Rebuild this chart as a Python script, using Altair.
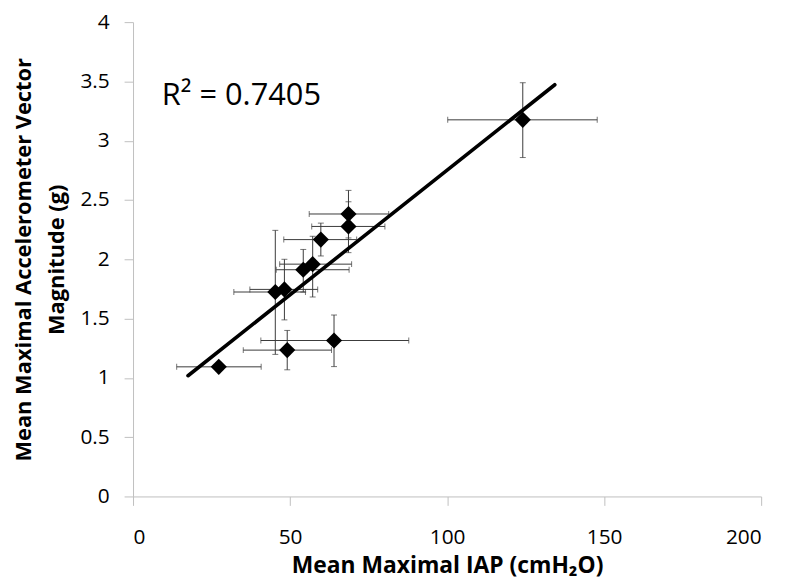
import altair as alt
import pandas as pd

# Mean maximal IAP (cmH2O) and accelerometer magnitude (g)
iap = [27.3, 49.1, 64.0, 45.3, 48.2, 54.2, 57.2, 59.8, 68.6, 68.6, 124.1]
acc = [1.093, 1.234, 1.315, 1.724, 1.746, 1.912, 1.959, 2.166, 2.277, 2.382, 3.176]
iap_lo = [13.9, 35.1, 40.7, 32.1, 37.2, 45.6, 46.7, 48.0, 56.9, 56.1, 100.2]
iap_hi = [40.8, 63.2, 87.8, 54.9, 58.8, 68.8, 69.6, 71.2, 80.2, 81.4, 147.8]
acc_lo = [1.07, 1.068, 1.095, 1.198, 1.489, 1.724, 1.682, 2.028, 2.056, 2.18, 2.858]
acc_hi = [1.12, 1.40, 1.53, 2.244, 2.0, 2.083, 2.194, 2.305, 2.485, 2.581, 3.489]

# linear trendline end points
trend_x = [17.5, 134.3]
trend_y = [1.018, 3.472]
r2_text = ["R² = 0.7405"]

x_ticks = [0, 50, 100, 150, 200]
y_ticks = [0, 0.5, 1, 1.5, 2, 2.5, 3, 3.5, 4]

df = pd.DataFrame(dict(iap=iap, acc=acc, iap_lo=iap_lo, iap_hi=iap_hi,
                       acc_lo=acc_lo, acc_hi=acc_hi))
tdf = pd.DataFrame(dict(x=trend_x, y=trend_y))
rdf = pd.DataFrame(dict(t=r2_text))

xs = alt.Scale(domain=[0, 200], nice=False, zero=False)
ys = alt.Scale(domain=[0, 4], nice=False, zero=False)

bar_color = "#3a3a3a"

xaxis = alt.Axis(values=x_ticks, title="Mean Maximal IAP (cmH₂O)",
                 labelPadding=21, titlePadding=8)
yaxis = alt.Axis(values=y_ticks, labelExpr="datum.value + ''",
                 title=["Mean Maximal Accelerometer Vector", "Magnitude  (g)"],
                 labelPadding=15, titlePadding=12, titleLineHeight=33,
                 titleFontSize=22)

base = alt.Chart(df)

hbar = base.mark_rule(color=bar_color, strokeWidth=1).encode(
    x=alt.X("iap_lo:Q", scale=xs, axis=xaxis),
    x2="iap_hi:Q",
    y=alt.Y("acc:Q", scale=ys, axis=yaxis),
)
vbar = base.mark_rule(color=bar_color, strokeWidth=1).encode(
    x=alt.X("iap:Q", scale=xs), y=alt.Y("acc_lo:Q", scale=ys), y2="acc_hi:Q"
)
cap_xl = base.mark_tick(color=bar_color, orient="vertical", size=6, thickness=1).encode(
    x=alt.X("iap_lo:Q", scale=xs), y=alt.Y("acc:Q", scale=ys))
cap_xh = base.mark_tick(color=bar_color, orient="vertical", size=6, thickness=1).encode(
    x=alt.X("iap_hi:Q", scale=xs), y=alt.Y("acc:Q", scale=ys))
cap_yl = base.mark_tick(color=bar_color, orient="horizontal", size=6, thickness=1).encode(
    x=alt.X("iap:Q", scale=xs), y=alt.Y("acc_lo:Q", scale=ys))
cap_yh = base.mark_tick(color=bar_color, orient="horizontal", size=6, thickness=1).encode(
    x=alt.X("iap:Q", scale=xs), y=alt.Y("acc_hi:Q", scale=ys))

trend = alt.Chart(tdf).mark_line(color="black", strokeWidth=3.6, strokeCap="round").encode(
    x=alt.X("x:Q", scale=xs), y=alt.Y("y:Q", scale=ys))

pts = base.mark_point(shape="diamond", filled=True, color="black", size=265, opacity=1).encode(
    x=alt.X("iap:Q", scale=xs), y=alt.Y("acc:Q", scale=ys))

r2 = alt.Chart(rdf).mark_text(align="left", baseline="alphabetic", fontSize=31,
                              font="Open Sans", color="black").encode(
    x=alt.value(29), y=alt.value(84), text="t:N")

chart = alt.layer(hbar, vbar, cap_xl, cap_xh, cap_yl, cap_yh, trend, pts, r2).properties(
    width=633, height=478,
    autosize=alt.AutoSizeParams(type="none"),
    padding={"left": 126, "top": 12, "right": 20, "bottom": 86},
).configure_view(stroke=None).configure_axis(
    grid=False, domainColor="#bfbfbf", tickColor="#bfbfbf", tickSize=9,
    labelColor="black", labelFont="Open Sans", labelFontSize=21,
    titleFont="Open Sans", titleFontSize=23, titleFontWeight="bold", titleColor="black",
)

chart.save("out.html", embed_options={"renderer": "svg", "actions": False})
